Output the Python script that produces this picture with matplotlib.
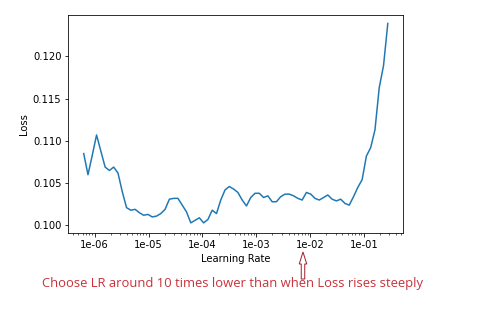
import matplotlib
matplotlib.use("Agg")
import matplotlib.pyplot as plt
from matplotlib.ticker import FuncFormatter
from matplotlib.patches import FancyArrow

#-------------------------------
#         data
#-------------------------------
lrs = [6.25e-07, 7.51e-07, 9.02e-07, 1.083e-06, 1.301e-06, 1.563e-06, 1.877e-06, 2.254e-06,
       2.708e-06, 3.252e-06, 3.906e-06, 4.692e-06, 5.635e-06, 6.769e-06, 8.130e-06, 9.765e-06,
       1.173e-05, 1.409e-05, 1.692e-05, 2.032e-05, 2.441e-05, 2.932e-05, 3.521e-05, 4.230e-05,
       5.080e-05, 6.102e-05, 7.329e-05, 8.803e-05, 1.057e-04, 1.270e-04, 1.525e-04, 1.832e-04,
       2.200e-04, 2.643e-04, 3.174e-04, 3.813e-04, 4.579e-04, 5.500e-04, 6.606e-04, 7.935e-04,
       9.530e-04, 1.145e-03, 1.375e-03, 1.651e-03, 1.983e-03, 2.382e-03, 2.861e-03, 3.437e-03,
       4.128e-03, 4.958e-03, 5.955e-03, 7.152e-03, 8.590e-03, 1.032e-02, 1.239e-02, 1.488e-02,
       1.788e-02, 2.147e-02, 2.579e-02, 3.098e-02, 3.721e-02, 4.469e-02, 5.367e-02, 6.447e-02,
       7.743e-02, 9.300e-02, 1.117e-01, 1.342e-01, 1.612e-01, 1.936e-01, 2.325e-01, 2.793e-01]

losses = [0.1085, 0.1060, 0.1083, 0.1107, 0.1088, 0.1069, 0.1065, 0.1069,
          0.1062, 0.1040, 0.1021, 0.1018, 0.1019, 0.1015, 0.1012, 0.1013,
          0.1010, 0.1011, 0.1014, 0.1019, 0.1031, 0.1032, 0.1032, 0.1024,
          0.1016, 0.1003, 0.1006, 0.1009, 0.1003, 0.1007, 0.1018, 0.1014,
          0.1030, 0.1042, 0.1046, 0.1043, 0.1039, 0.1030, 0.1023, 0.1033,
          0.1038, 0.1038, 0.1033, 0.1035, 0.1028, 0.1028, 0.1034, 0.1037,
          0.1037, 0.1035, 0.1032, 0.1030, 0.1039, 0.1037, 0.1032, 0.1030,
          0.1033, 0.1036, 0.1031, 0.1029, 0.1031, 0.1026, 0.1024, 0.1034,
          0.1045, 0.1054, 0.1082, 0.1092, 0.1113, 0.1163, 0.1189, 0.1239]

note = "Choose LR around 10 times lower than when Loss rises steeply"
red = '#c8323a'

#-------------------------------
#         draw plot
#-------------------------------
fig = plt.figure(figsize=(480/72, 333/72), dpi=72)
ax = fig.add_axes([0.1427, 0.3003, 0.6969, 0.6547])
ax.plot(lrs, losses, color='#1f77b4', lw=1.5)
ax.set_xscale('log')
ax.xaxis.set_major_formatter(FuncFormatter(lambda v, p: '%.0e' % v))
ax.set_ylim(0.0991, 0.1249)
ax.set_xlabel('Learning Rate', fontsize=10)
ax.set_ylabel('Loss', fontsize=10)
ax.tick_params(labelsize=10)

# hollow arrow pointing at ~1e-2 (figure pixels)
arrow = FancyArrow(303, 54, 0, 27, width=3.5, head_width=7.5, head_length=12,
                   length_includes_head=True, transform=None,
                   facecolor='white', edgecolor='#a02030', lw=1)
fig.patches.append(arrow)

fig.text(232/480, (333 - 284)/333, note, fontsize=13, color=red,
         family='Open Sans', ha='center', va='center')

fig.savefig("out.png", dpi=72)
